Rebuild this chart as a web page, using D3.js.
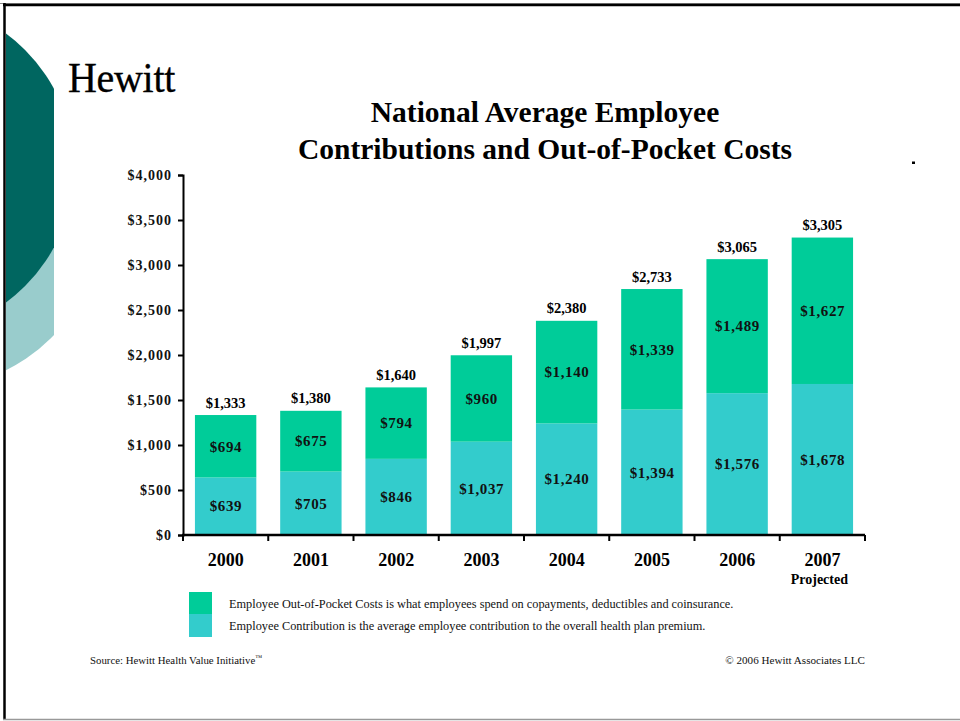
<!DOCTYPE html>
<html>
<head>
<meta charset="utf-8">
<script src="https://cdn.jsdelivr.net/npm/d3@7"></script>
<style>
  html, body { margin: 0; padding: 0; background: #fff; }
  svg { display: block; }
  text { font-family: "Liberation Serif", "Times New Roman", serif; }
</style>
</head>
<body>
<svg id="chart" width="960" height="721"></svg>
<script>
// Years shown along the horizontal axis
const years = ["2000", "2001", "2002", "2003", "2004", "2005", "2006", "2007"];
// Average employee contribution to the health plan premium ($)
const contribution = [639, 705, 846, 1037, 1240, 1394, 1576, 1678];
// Average employee out-of-pocket costs ($)
const outOfPocket = [694, 675, 794, 960, 1140, 1339, 1489, 1627];
// Totals printed above each bar ($)
const totals = [1333, 1380, 1640, 1997, 2380, 2733, 3065, 3305];
// Vertical axis tick values ($)
const yTicks = [0, 500, 1000, 1500, 2000, 2500, 3000, 3500, 4000];
// Legend entries
const legendItems = [
  { key: "outOfPocket", text: "Employee Out-of-Pocket Costs is what employees spend on copayments, deductibles and coinsurance." },
  { key: "contribution", text: "Employee Contribution is the average employee contribution to the overall health plan premium." }
];

const colors = { contribution: "#33CCCC", outOfPocket: "#00CC99" };

const svg = d3.select("#chart");

// Slide frame
svg.append("line").attr("x1", 0).attr("x2", 960).attr("y1", 3.5).attr("y2", 3.5)
  .attr("stroke", "#888").attr("stroke-width", 1);
svg.append("line").attr("x1", 3).attr("x2", 960).attr("y1", 5).attr("y2", 5)
  .attr("stroke", "#000").attr("stroke-width", 2.5);
svg.append("line").attr("x1", 4.5).attr("x2", 4.5).attr("y1", 3).attr("y2", 720)
  .attr("stroke", "#000").attr("stroke-width", 2.5);
svg.append("line").attr("x1", 3).attr("x2", 960).attr("y1", 719.5).attr("y2", 719.5)
  .attr("stroke", "#999").attr("stroke-width", 1.5);

// Decorative arcs on the left edge
const defs = svg.append("defs");
defs.append("clipPath").attr("id", "edge-clip")
  .append("rect").attr("x", 6).attr("y", 6).attr("width", 48).attr("height", 700);
const deco = svg.append("g").attr("clip-path", "url(#edge-clip)");
deco.append("circle").attr("cx", -67).attr("cy", 220).attr("r", 167).attr("fill", "#99CCCC");
deco.append("circle").attr("cx", -93).attr("cy", 168).attr("r", 167).attr("fill", "#006660");

// Wordmark
svg.append("text").attr("x", 68).attr("y", 92.5)
  .attr("font-size", 40).attr("letter-spacing", -0.3)
  .attr("transform", "translate(0,92.5) scale(1,1.06) translate(0,-92.5)")
  .attr("stroke", "#000").attr("stroke-width", 0.3)
  .attr("fill", "#000")
  .text("Hewitt");

// Title
const title = svg.append("text").attr("text-anchor", "middle")
  .attr("font-size", 29.5).attr("font-weight", "bold").attr("fill", "#000");
title.append("tspan").attr("x", 545).attr("y", 122).text("National Average Employee");
title.append("tspan").attr("x", 545).attr("y", 158.5).text("Contributions and Out-of-Pocket Costs");

// Small mark at right
svg.append("rect").attr("x", 912).attr("y", 161.5).attr("width", 3).attr("height", 2.5).attr("fill", "#000");

// Plot area
const plot = { left: 183, right: 865, top: 175, bottom: 535 };

const x = d3.scaleBand().domain(years).range([plot.left, plot.right]).paddingInner(0.28).paddingOuter(0.14);
const y = d3.scaleLinear().domain([0, 4000]).range([plot.bottom, plot.top]);

const rows = years.map((yr, i) => ({ year: yr, contribution: contribution[i], outOfPocket: outOfPocket[i], total: totals[i] }));
const stacked = d3.stack().keys(["contribution", "outOfPocket"])(rows);

// Bars
const layers = svg.append("g").selectAll("g").data(stacked).join("g")
  .attr("fill", d => colors[d.key]);
layers.selectAll("rect").data(d => d).join("rect")
  .attr("x", d => x(d.data.year))
  .attr("width", x.bandwidth())
  .attr("y", d => y(d[1]))
  .attr("height", d => y(d[0]) - y(d[1]));

// Segment value labels
const fmt = d => "$" + d3.format(",")(d);
svg.append("g").selectAll("g").data(stacked).join("g")
  .selectAll("text").data(d => d.map(v => ({ v, key: d.key }))).join("text")
  .attr("x", d => x(d.v.data.year) + x.bandwidth() / 2 + 0.3)
  .attr("y", d => (y(d.v[0]) + y(d.v[1])) / 2)
  .attr("dy", "0.35em")
  .attr("text-anchor", "middle")
  .attr("font-size", 15).attr("font-weight", "bold").attr("letter-spacing", 0.6)
  .attr("fill", "#111")
  .text(d => fmt(d.v.data[d.key]));

// Totals above bars
svg.append("g").selectAll("text").data(rows).join("text")
  .attr("x", d => x(d.year) + x.bandwidth() / 2)
  .attr("y", d => y(d.total) - 7.5)
  .attr("text-anchor", "middle")
  .attr("font-size", 14.5).attr("font-weight", "bold")
  .attr("fill", "#000")
  .text(d => fmt(d.total));

// Y axis
const yAxis = svg.append("g").attr("transform", `translate(${plot.left},0)`)
  .call(d3.axisLeft(y).tickValues(yTicks).tickSize(5).tickPadding(6).tickFormat(fmt));
yAxis.select(".domain").attr("stroke", "#000").attr("stroke-width", 2);
yAxis.selectAll(".tick line").attr("stroke", "#000").attr("stroke-width", 2);
yAxis.selectAll(".tick text")
  .attr("font-family", "'Liberation Serif', 'Times New Roman', serif")
  .attr("font-size", 14).attr("font-weight", "bold").attr("letter-spacing", 1)
  .attr("fill", "#111");

// X axis: category labels
const xAxis = svg.append("g").attr("transform", `translate(0,${plot.bottom})`)
  .call(d3.axisBottom(x).tickSize(0).tickPadding(18));
xAxis.select(".domain").remove();
xAxis.selectAll(".tick text")
  .attr("font-family", "'Liberation Serif', 'Times New Roman', serif")
  .attr("font-size", 18).attr("font-weight", "bold").attr("fill", "#000");
svg.append("line").attr("x1", plot.left - 1).attr("x2", plot.right).attr("y1", plot.bottom).attr("y2", plot.bottom)
  .attr("stroke", "#000").attr("stroke-width", 2.5);

// Boundary ticks between categories
const step = x.step();
const edges = years.map(yr => x(yr) - step * x.paddingInner() / 2).concat([plot.right]);
edges[0] = plot.left;
svg.append("g").selectAll("line").data(edges).join("line")
  .attr("x1", d => d).attr("x2", d => d)
  .attr("y1", plot.bottom).attr("y2", plot.bottom + 6)
  .attr("stroke", "#000").attr("stroke-width", 2);

// "Projected" note under the last year
svg.append("text")
  .attr("x", x(years[years.length - 1]) + x.bandwidth() / 2 - 3)
  .attr("y", 584)
  .attr("text-anchor", "middle")
  .attr("font-size", 14).attr("font-weight", "bold").attr("fill", "#000")
  .text("Projected");

// Legend
const legend = svg.append("g").attr("transform", "translate(189,592)");
const sw = [{ y: 0, h: 22 }, { y: 22, h: 23 }];
legend.selectAll("rect").data(legendItems).join("rect")
  .attr("x", 0).attr("y", (d, i) => sw[i].y)
  .attr("width", 23).attr("height", (d, i) => sw[i].h)
  .attr("fill", d => colors[d.key]);
legend.selectAll("text").data(legendItems).join("text")
  .attr("x", 40).attr("y", (d, i) => 16 + i * 22)
  .attr("font-size", 12.3).attr("fill", "#111")
  .text(d => d.text);

// Footer
const src = svg.append("text").attr("x", 90).attr("y", 664).attr("font-size", 10.8).attr("fill", "#111");
src.append("tspan").text("Source: Hewitt Health Value Initiative");
src.append("tspan").attr("font-size", 7).attr("dy", -4).text("™");
svg.append("text").attr("x", 865).attr("y", 664).attr("text-anchor", "end")
  .attr("font-size", 11.1).attr("fill", "#111")
  .text("© 2006 Hewitt Associates LLC");
</script>
</body>
</html>
